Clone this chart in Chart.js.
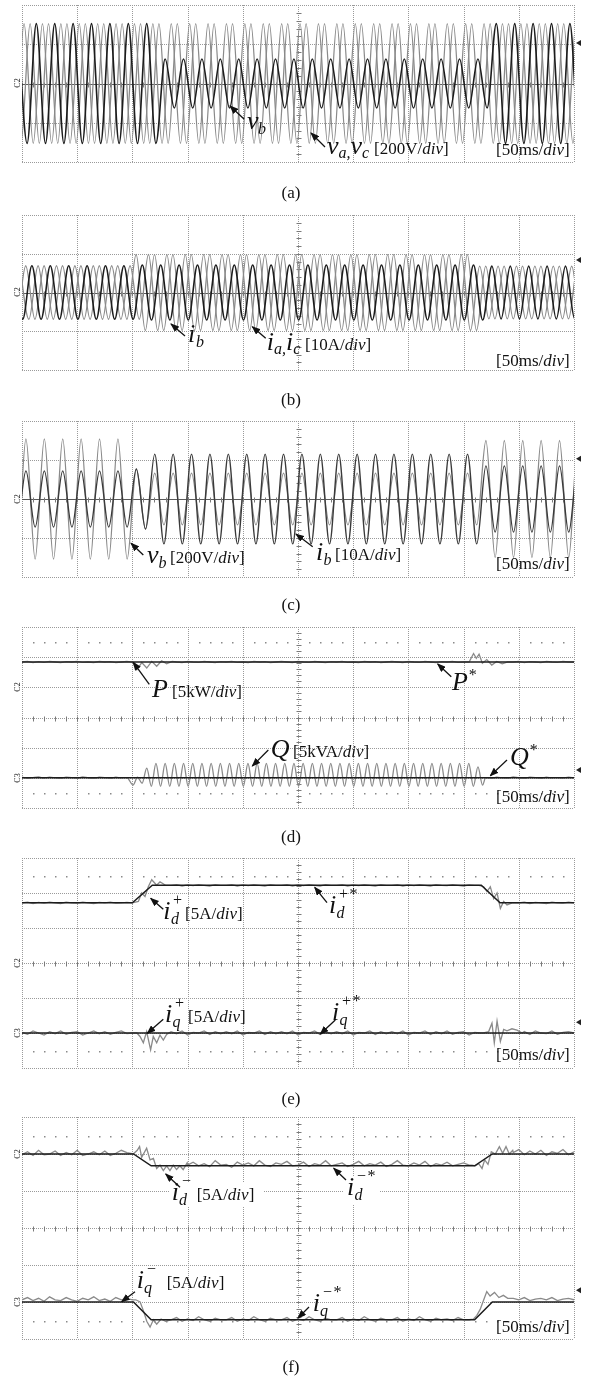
<!DOCTYPE html>
<html>
<head>
<meta charset="utf-8">
<title>Sag compensation - scope traces</title>
<script src="https://cdn.jsdelivr.net/npm/chart.js@4.4.1/dist/chart.umd.min.js"></script>
<style>
  html, body { margin: 0; padding: 0; background: #fff; }
  body { position: relative; width: 592px; height: 1380px; overflow: hidden; }
  canvas { position: absolute; left: 16px; }
  #labels { position: absolute; left: 0; top: 0; }
  #labels text { font-family: "Liberation Serif", "Times New Roman", serif; fill: #111; }
  #labels line { stroke: #111; stroke-width: 1.3; marker-end: url(#ah); }
  .s { font-size: 26px; font-style: italic; }
  .u { font-size: 16px; font-style: italic; }
  .b { font-size: 17px; }
  .i { font-style: italic; }
  .cap { font-size: 17px; }
  .ch { font-size: 8px; fill: #444; }
</style>
</head>
<body>
<canvas id="scopeA" width="576" height="165" style="top:1px"></canvas>
<canvas id="scopeB" width="576" height="163" style="top:211px"></canvas>
<canvas id="scopeC" width="576" height="164" style="top:417px"></canvas>
<canvas id="scopeD" width="576" height="189" style="top:623px"></canvas>
<canvas id="scopeE" width="576" height="218" style="top:854px"></canvas>
<canvas id="scopeF" width="576" height="230" style="top:1113px"></canvas>

<svg id="labels" width="592" height="1380" xmlns="http://www.w3.org/2000/svg">
  <defs>
    <marker id="ah" markerWidth="9" markerHeight="7" refX="8" refY="3.5" orient="auto" markerUnits="userSpaceOnUse">
      <path d="M0,0 L9,3.5 L0,7 z" fill="#111"/>
    </marker>
  </defs>

  <!-- channel ground marks -->
  <text class="ch" transform="translate(20,83) rotate(-90)" text-anchor="middle">C2</text>
  <text class="ch" transform="translate(20,292) rotate(-90)" text-anchor="middle">C2</text>
  <text class="ch" transform="translate(20,499) rotate(-90)" text-anchor="middle">C2</text>
  <text class="ch" transform="translate(20,687) rotate(-90)" text-anchor="middle">C2</text>
  <text class="ch" transform="translate(20,778) rotate(-90)" text-anchor="middle">C3</text>
  <text class="ch" transform="translate(20,963) rotate(-90)" text-anchor="middle">C2</text>
  <text class="ch" transform="translate(20,1033) rotate(-90)" text-anchor="middle">C3</text>
  <text class="ch" transform="translate(20,1154) rotate(-90)" text-anchor="middle">C2</text>
  <text class="ch" transform="translate(20,1302) rotate(-90)" text-anchor="middle">C3</text>

  <!-- (a) -->
  <line x1="244" y1="119" x2="230" y2="106"/>
  <line x1="325" y1="147" x2="311" y2="133"/>
  <text x="247" y="129" class="s">v</text><text x="258" y="134" class="u">b</text>
  <text x="327" y="154"><tspan class="s">v</tspan><tspan class="u" dy="4">a,</tspan><tspan class="s" dy="-4">v</tspan><tspan class="u" dy="4">c</tspan><tspan class="b" dy="-4" x="374">[200V/</tspan><tspan class="b i">div</tspan><tspan class="b">]</tspan></text>
  <text x="496" y="155"><tspan class="b">[50ms/</tspan><tspan class="b i">div</tspan><tspan class="b">]</tspan></text>
  <text x="291" y="198" class="cap" text-anchor="middle">(a)</text>

  <!-- (b) -->
  <line x1="185" y1="336" x2="171" y2="324"/>
  <line x1="265.7" y1="338.3" x2="252.3" y2="326.7"/>
  <text x="188" y="342" class="s">i</text><text x="196" y="347" class="u">b</text>
  <text x="266.7" y="350"><tspan class="s">i</tspan><tspan class="u" dy="4">a,</tspan><tspan class="s" dy="-4">i</tspan><tspan class="u" dy="4">c</tspan><tspan class="b" dy="-4" x="305">[10A/</tspan><tspan class="b i">div</tspan><tspan class="b">]</tspan></text>
  <text x="496" y="366"><tspan class="b">[50ms/</tspan><tspan class="b i">div</tspan><tspan class="b">]</tspan></text>
  <text x="291" y="405" class="cap" text-anchor="middle">(b)</text>

  <!-- (c) -->
  <line x1="143.3" y1="555" x2="131" y2="543.3"/>
  <line x1="312.7" y1="546.7" x2="296" y2="534"/>
  <text x="147" y="563" class="s">v</text><text x="158.5" y="568" class="u">b</text>
  <text x="170" y="563"><tspan class="b">[200V/</tspan><tspan class="b i">div</tspan><tspan class="b">]</tspan></text>
  <text x="316" y="560" class="s">i</text><text x="323.5" y="565" class="u">b</text>
  <text x="335" y="560"><tspan class="b">[10A/</tspan><tspan class="b i">div</tspan><tspan class="b">]</tspan></text>
  <text x="496" y="569"><tspan class="b">[50ms/</tspan><tspan class="b i">div</tspan><tspan class="b">]</tspan></text>
  <text x="291" y="610" class="cap" text-anchor="middle">(c)</text>

  <!-- (d) -->
  <line x1="149.3" y1="684.3" x2="133.3" y2="662.3"/>
  <line x1="451.3" y1="676.7" x2="437.7" y2="664"/>
  <line x1="268.3" y1="750" x2="252.3" y2="766"/>
  <line x1="507" y1="760" x2="490.3" y2="775.7"/>
  <text x="152" y="697" class="s">P</text>
  <text x="172" y="697"><tspan class="b">[5kW/</tspan><tspan class="b i">div</tspan><tspan class="b">]</tspan></text>
  <text x="452" y="690" class="s">P</text><text x="468" y="680" class="u">*</text>
  <text x="270.7" y="757" class="s">Q</text>
  <text x="293" y="757"><tspan class="b">[5kVA/</tspan><tspan class="b i">div</tspan><tspan class="b">]</tspan></text>
  <text x="510" y="765" class="s">Q</text><text x="529" y="755" class="u">*</text>
  <text x="496" y="802"><tspan class="b">[50ms/</tspan><tspan class="b i">div</tspan><tspan class="b">]</tspan></text>
  <text x="291" y="842" class="cap" text-anchor="middle">(d)</text>

  <!-- (e) -->
  <line x1="163.3" y1="909.3" x2="150.7" y2="898.3"/>
  <line x1="327" y1="902.7" x2="314.7" y2="887.3"/>
  <line x1="163.3" y1="1019.3" x2="147.3" y2="1033.3"/>
  <line x1="335.3" y1="1020" x2="320.3" y2="1034"/>
  <text x="163.3" y="919" class="s">i</text><text x="171" y="924" class="u">d</text><text x="172" y="905" class="u">+</text>
  <text x="185" y="919"><tspan class="b">[5A/</tspan><tspan class="b i">div</tspan><tspan class="b">]</tspan></text>
  <text x="329" y="913" class="s">i</text><text x="336.5" y="918" class="u">d</text><text x="338" y="899" class="u">+*</text>
  <text x="165" y="1022" class="s">i</text><text x="172.5" y="1027" class="u">q</text><text x="174" y="1008" class="u">+</text>
  <text x="188" y="1022"><tspan class="b">[5A/</tspan><tspan class="b i">div</tspan><tspan class="b">]</tspan></text>
  <text x="332" y="1020" class="s">i</text><text x="339.5" y="1025" class="u">q</text><text x="341" y="1006" class="u">+*</text>
  <text x="496" y="1060"><tspan class="b">[50ms/</tspan><tspan class="b i">div</tspan><tspan class="b">]</tspan></text>
  <text x="291" y="1104" class="cap" text-anchor="middle">(e)</text>

  <!-- (f) -->
  <rect x="169" y="1182" width="95" height="24" fill="#fff"/>
  <rect x="344" y="1176" width="36" height="28" fill="#fff"/>
  <line x1="180" y1="1187.3" x2="165.7" y2="1174"/>
  <line x1="346" y1="1180" x2="333.7" y2="1168.3"/>
  <line x1="135" y1="1291.7" x2="121.7" y2="1301.7"/>
  <line x1="309" y1="1307" x2="298" y2="1318"/>
  <text x="171.7" y="1200" class="s">i</text><text x="179" y="1205" class="u">d</text><text x="181" y="1186" class="u">−</text>
  <text x="196.7" y="1200"><tspan class="b">[5A/</tspan><tspan class="b i">div</tspan><tspan class="b">]</tspan></text>
  <text x="347" y="1195" class="s">i</text><text x="354.5" y="1200" class="u">d</text><text x="356" y="1181" class="u">−*</text>
  <text x="136.7" y="1288" class="s">i</text><text x="144" y="1293" class="u">q</text><text x="146" y="1274" class="u">−</text>
  <text x="166.7" y="1288"><tspan class="b">[5A/</tspan><tspan class="b i">div</tspan><tspan class="b">]</tspan></text>
  <text x="312.7" y="1311" class="s">i</text><text x="320" y="1316" class="u">q</text><text x="322" y="1297" class="u">−*</text>
  <text x="496" y="1332"><tspan class="b">[50ms/</tspan><tspan class="b i">div</tspan><tspan class="b">]</tspan></text>
  <text x="291" y="1372" class="cap" text-anchor="middle">(f)</text>
</svg>

<script>
// time base: 10 div x 50 ms, 60 Hz grid
const timeTicks = [0, 50, 100, 150, 200, 250, 300, 350, 400, 450, 500];
const PERIOD = 1000 / 60;

// (a) phase voltages [V]: time of the first positive peak [ms], peak of each cycle
const vaStart = -9.3, vbStart = -3.7, vcStart = -14.8;
const vaAmp = [305, 305, 305, 305, 305, 305, 305, 305,
               305, 305, 305, 305, 305, 305, 305, 305,
               305, 305, 305, 305, 305, 305, 305, 305,
               305, 305, 305, 305, 305, 305, 305, 305];
const vbAmp = [305, 305, 305, 305, 305, 305, 305, 305,
               125, 125, 125, 125, 125, 125, 125, 125,
               125, 125, 125, 125, 125, 125, 125, 125,
               125, 125, 305, 305, 305, 305, 305, 305];
const vcAmp = [305, 305, 305, 305, 305, 305, 305, 305,
               305, 305, 305, 305, 305, 305, 305, 305,
               305, 305, 305, 305, 305, 305, 305, 305,
               305, 305, 305, 305, 305, 305, 305, 305];

// (b) line currents [A]
const iaStart = -13.3, ibStart = -7.7, icStart = -2.1;
const iaAmp = [6.9, 6.9, 6.9, 6.9, 6.9, 6.9, 6.9, 9.8,
               9.8, 9.8, 9.8, 9.8, 9.8, 9.8, 9.8, 9.8,
               9.8, 9.8, 9.8, 9.8, 9.8, 9.8, 9.8, 9.8,
               9.8, 9.8, 6.8, 6.8, 6.8, 6.8, 6.8, 6.8];
const ibAmp = [6.9, 6.9, 6.9, 6.9, 6.9, 6.9, 6.9, 7.1,
               7.1, 7.1, 7.1, 7.1, 7.1, 7.1, 7.1, 7.1,
               7.1, 7.1, 7.1, 7.1, 7.1, 7.1, 7.1, 7.1,
               7.1, 7.1, 6.8, 6.8, 6.8, 6.8, 6.8, 6.8];
const icAmp = [6.9, 6.9, 6.9, 6.9, 6.9, 6.9, 6.9, 9.8,
               9.8, 9.8, 9.8, 9.8, 9.8, 9.8, 9.8, 9.8,
               9.8, 9.8, 9.8, 9.8, 9.8, 9.8, 9.8, 9.8,
               9.8, 6.8, 6.8, 6.8, 6.8, 6.8, 6.8, 6.8];

// (c) phase b voltage [V] and current [A]
const phbStart = -13.1;
const vbcAmp = [308, 308, 308, 308, 308, 308, 308, 154,
                133, 133, 133, 133, 133, 133, 133, 133,
                133, 133, 133, 133, 133, 133, 133, 133,
                133, 133, 300, 300, 300, 300, 300, 300];
const ibcAmp = [7.2, 7.2, 7.2, 7.2, 7.2, 7.2, 7.2, 7.7,
                11.5, 11.5, 11.5, 11.5, 11.5, 11.5, 11.5, 11.5,
                11.5, 11.5, 11.5, 11.5, 11.5, 11.5, 11.5, 11.5,
                11.5, 11.5, 8.5, 8.5, 8.5, 8.5, 8.5, 8.5];

// (d) active power [kW], sampled every 5 ms; null = see detail samples
const pBase = [4.2, 4.3, 4.1, 4.25, 4.15, 4.3, 4.2, 4.1, 4.25, 4.2,
               4.3, 4.15, 4.2, 4.1, 4.3, 4.2, 4.25, 4.1, 4.2, 4.3,
               null, null, null, null, null, null, null, null,
               4.2, 4.1, 4.3, 4.2, 4.15, 4.3, 4.2, 4.1, 4.25, 4.2,
               4.3, 4.15, 4.2, 4.1, 4.3, 4.2, 4.25, 4.1, 4.2, 4.3,
               4.2, 4.1, 4.3, 4.2, 4.15, 4.3, 4.2, 4.1, 4.25, 4.2,
               4.3, 4.15, 4.2, 4.1, 4.3, 4.2, 4.25, 4.1, 4.2, 4.3,
               4.2, 4.1, 4.3, 4.2, 4.15, 4.3, 4.2, 4.1, 4.25, 4.2,
               4.3, 4.15, 4.2,
               null, null, null, null, null, null, null, null,
               4.2, 4.3, 4.1, 4.25, 4.2, 4.1, 4.3, 4.2, 4.15, 4.3, 4.2, 4.2];
const pDetT = [100, 104, 108.5, 113, 117.5, 122, 126.5, 131, 136,
               405, 409, 411.5, 414, 417, 421, 425.5, 430, 435, 440];
const pDetV = [4.2, 2.9, 4.1, 3.2, 4.3, 3.5, 4.4, 3.9, 4.3,
               4.2, 5.6, 4.8, 5.5, 4.0, 4.6, 3.7, 4.3, 3.9, 4.2];
const pRefT = [0, 500], pRefV = [4.2, 4.2];

// reactive power [kVA]: 5 ms samples before/after, 120 Hz ripple in between
const qPre = [0.1, -0.1, 0.05, 0.15, -0.05, 0.1, 0, -0.1, 0.1, 0.05,
              -0.05, 0.15, 0, -0.1, 0.1, 0.05, -0.1, 0.1, 0, 0.05];
const qRippleStart = 100.5, qHalf = 1000 / 240;
const qTroughs = [-1.2, -0.9, -1.4, -1.4, -1.4, -1.4, -1.4, -1.4, -1.4, -1.4,
                  -1.4, -1.4, -1.4, -1.4, -1.4, -1.4, -1.4, -1.4, -1.4, -1.4,
                  -1.4, -1.4, -1.4, -1.4, -1.4, -1.4, -1.4, -1.4, -1.4, -1.4,
                  -1.4, -1.4, -1.4, -1.4, -1.4, -1.4, -1.4, -1.4, -1.2];
const qPeaks = [0.1, 1.6, 2.4, 2.4, 2.4, 2.4, 2.4, 2.4, 2.4, 2.4,
                2.4, 2.4, 2.4, 2.4, 2.4, 2.4, 2.4, 2.4, 2.4, 2.4,
                2.4, 2.4, 2.4, 2.4, 2.4, 2.4, 2.4, 2.4, 2.4, 2.4,
                2.4, 2.4, 2.4, 2.4, 2.4, 2.4, 2.4, 1.8];
const qPost = [0.05, -0.1, 0.1, 0, -0.05, 0.15, 0, -0.1, 0.1, 0.05,
               -0.1, 0.1, 0, 0.05, -0.05, 0.1, 0];
const qRefT = [0, 500], qRefV = [0, 0];

// (e) positive-sequence dq currents [A]
const idpBase = [8.6, 8.7, 8.5, 8.65, 8.55, 8.7, 8.6, 8.5, 8.7, 8.6,
                 8.55, 8.7, 8.6, 8.5, 8.65, 8.6, 8.7, 8.55, 8.6, 8.65,
                 null, null, null, null, null, null, null,
                 11.1, 11.2, 11.0, 11.15, 11.05, 11.2, 11.1, 11.0, 11.2, 11.1,
                 11.1, 11.2, 11.0, 11.15, 11.05, 11.2, 11.1, 11.0, 11.2, 11.1,
                 11.1, 11.2, 11.0, 11.15, 11.05, 11.2, 11.1, 11.0, 11.2, 11.1,
                 11.1, 11.2, 11.0, 11.15, 11.05, 11.2, 11.1, 11.0, 11.2, 11.1,
                 11.1, 11.2, 11.0, 11.15, 11.05, 11.2, 11.1, 11.0, 11.2, 11.1,
                 11.05, 11.2, 11.1, 11.0, 11.15, 11.1,
                 null, null, null, null, null, null, null,
                 8.6, 8.7, 8.5, 8.65, 8.6, 8.5, 8.7, 8.6, 8.55, 8.7, 8.6];
const idpDetT = [100, 105.4, 108.4, 111.4, 114.4, 117.5, 122, 125, 130,
                 414, 418.2, 421.2, 424.2, 427.2, 430.3, 433.3, 436.3, 439.3, 444];
const idpDetV = [8.6, 8.8, 10.0, 9.5, 10.9, 11.9, 11.1, 11.6, 11.1,
                 11.1, 10.9, 10.2, 10.9, 9.2, 10.0, 7.8, 8.8, 8.3, 8.6];
const idpRefT = [0, 100, 118, 416, 433, 500];
const idpRefV = [8.6, 8.6, 11.1, 11.1, 8.6, 8.6];

const iqpBase = [0.1, -0.2, 0.3, 0, -0.3, 0.2, -0.1, 0.3, -0.2, 0.1,
                 0.2, -0.3, 0, 0.3, -0.1, 0.2, -0.2, 0.1, 0.3, -0.1, 0,
                 null, null, null, null, null, null,
                 0.2, -0.1, 0.3, -0.3, 0.1, 0, 0.3, -0.2, 0.2, -0.1,
                 0.2, -0.1, 0.3, -0.3, 0.1, 0, 0.3, -0.2, 0.2, -0.1,
                 0.2, -0.1, 0.3, -0.3, 0.1, 0, 0.3, -0.2, 0.2, -0.1,
                 0.2, -0.1, 0.3, -0.3, 0.1, 0, 0.3, -0.2, 0.2, -0.1,
                 0.2, -0.1, 0.3, -0.3, 0.1, 0, 0.3, -0.2, 0.2, -0.1,
                 0.3, -0.2, 0.1, 0.2, -0.3, 0.1, 0,
                 null, null, null, null, null, null, null,
                 0.2, -0.2, 0.3, 0, -0.1, 0.3, -0.2, 0.1, 0.2, 0];
const iqpDetT = [104, 106.9, 109.9, 112.9, 116.5, 118.9, 122, 125, 128, 131,
                 418, 422.7, 425.7, 427.8, 430.3, 433.3, 436.3, 439.3, 443.8, 448.4, 453];
const iqpDetV = [0, -0.5, -1.4, 0.2, -2.4, -0.5, -1.4, -0.3, -1.0, -0.2,
                 0, 0.2, 1.4, -1.4, 1.7, -1.2, 0.5, 0.3, 0.6, 0.4, 0];
const iqpRefT = [0, 500], iqpRefV = [0, 0];

// (f) negative-sequence dq currents [A]
const idnBase = [-0.1, 0.3, -0.2, 0.5, -0.1, 0, 0.4, -0.2, 0.2, -0.1,
                 0.5, -0.2, 0, 0.3, -0.1, 0.4, -0.2, 0.1, 0.5, 0.2,
                 null, null, null, null, null, null, null, null, null, null,
                 -1.5, -1.1, -1.6, -1.3, -1.7, -0.9, -1.5, -1.4, -1.8, -1.1,
                 -1.5, -1.2, -1.6, -0.9, -1.5, -1.7, -1.2, -1.4, -1.0, -1.6,
                 -1.5, -1.1, -1.7, -1.3, -1.5, -0.9, -1.6, -1.4, -1.2, -1.7,
                 -1.4, -1.0, -1.6, -1.3, -1.5, -1.1, -1.7, -1.4, -0.9, -1.5,
                 -1.6, -1.2, -1.5, -1.0, -1.7, -1.3, -1.5, -1.1, -1.6, -1.4,
                 -1.2, -1.5,
                 null, null, null, null, null, null, null,
                 0.2, 0.6, -0.1, 0.4, 0, 0.5, -0.2, 0.3, 0.1, 0.6, -0.1, 0.3];
const idnDetT = [100.8, 104.4, 106.5, 108.4, 112.9, 116, 119, 122, 125, 128, 131,
                 134, 137, 140, 143, 146, 149.6,
                 407.6, 410.6, 413.6, 416.7, 419.1, 422.1, 425.1, 428.7, 432.4,
                 435.4, 438.4, 441.4, 444.5];
const idnDetV = [0, 0.5, 1.0, -0.45, 0.77, -0.8, -0.6, -1.95, -1.5, -2.25, -1.6,
                 -2.25, -1.5, -2.1, -1.6, -2.1, -1.2,
                 -1.5, -1.6, -1.3, -1.95, -0.8, -1.4, 0.3, 0, 1.0,
                 0.1, 1.0, 0, 0.5];
const idnRefT = [0, 101, 117, 410, 426, 500];
const idnRefV = [0, 0, -1.6, -1.6, 0, 0];

const iqnBase = [0.3, 0.6, 0.2, 0.5, 0.1, 0.7, 0.3, 0.2, 0.6, 0.3,
                 0.1, 0.5, 0.3, 0.7, 0.2, 0.4, 0.1, 0.6, 0.3, 0.5, 0.3,
                 null, null, null, null, null, null,
                 -2.4, -2.1, -2.6, -2.3, -2.5, -2.0, -2.4, -2.6, -2.2, -2.4,
                 -2.4, -2.1, -2.6, -2.3, -2.5, -2.0, -2.4, -2.6, -2.2, -2.4,
                 -2.4, -2.1, -2.6, -2.3, -2.5, -2.0, -2.4, -2.6, -2.2, -2.4,
                 -2.4, -2.1, -2.6, -2.3, -2.5, -2.0, -2.4, -2.6, -2.2, -2.4,
                 -2.4, -2.1, -2.6, -2.3, -2.5, -2.0, -2.4, -2.6, -2.2, -2.4,
                 -2.3, -2.5, -2.1, -2.4,
                 null, null, null, null, null, null, null, null,
                 0.5, 0.3, 0.6, 0.2, 0.4, 0.5, 0.3, 0.6, 0.2, 0.4, 0.5, 0.3];
const iqnDetT = [103, 107, 110, 113, 116, 119, 122, 126, 130,
                 405, 409, 412, 415, 418, 421, 424, 428, 432, 436, 440];
const iqnDetV = [0.3, 0, -1.2, -2.6, -3.4, -2.4, -3.0, -2.3, -2.6,
                 -2.4, -2.3, -1.8, -1.0, 0.2, 1.4, 0.8, 1.3, 0.6, 0.9, 0.5];
const iqnRefT = [0, 101, 117, 410, 426, 500];
const iqnRefV = [0, 0, -2.4, -2.4, 0, 0];

// ---- point builders ----
function wave(t0, amps) {
  const pts = [];
  amps.forEach((a, k) => {
    const tp = t0 + k * PERIOD;
    pts.push({x: tp, y: a}, {x: tp + PERIOD / 2, y: -a});
  });
  return pts;
}

function sampled(base, detT, detV) {
  const pts = [];
  base.forEach((v, i) => { if (v !== null) pts.push({x: i * 5, y: v}); });
  detT.forEach((t, i) => pts.push({x: t, y: detV[i]}));
  return pts.sort((a, b) => a.x - b.x);
}

function pairs(ts, vs) {
  return ts.map((t, i) => ({x: t, y: vs[i]}));
}

function rippleQ() {
  const pts = qPre.map((v, i) => ({x: i * 5, y: v}));
  qTroughs.forEach((v, k) => {
    pts.push({x: qRippleStart + 2 * k * qHalf, y: v});
    if (k < qPeaks.length) pts.push({x: qRippleStart + (2 * k + 1) * qHalf, y: qPeaks[k]});
  });
  qPost.forEach((v, i) => pts.push({x: 420 + i * 5, y: v}));
  return pts;
}

const BLACK = '#1c1c1c', GREY = '#8a8a8a';

function line(data, colour, width, yAxisID, smooth) {
  return {
    data, yAxisID, borderColor: colour, borderWidth: width,
    pointRadius: 0, fill: false, tension: 0,
    cubicInterpolationMode: smooth ? 'monotone' : 'default'
  };
}

// graticule: dotted divisions, centre cross with minor ticks, fine dot rows, trigger mark
const scopeGrid = {
  id: 'scopeGrid',
  beforeDatasetsDraw(chart, args, opts) {
    const {ctx, chartArea: area, scales: {x}} = chart;
    const rowH = (area.bottom - area.top) / opts.rows;
    const stepX = (x.getPixelForValue(50) - x.getPixelForValue(0)) / 5;
    const cx = Math.round(x.getPixelForValue(250)) + 0.5;
    const cy = Math.round(area.top + opts.centre * rowH) + 0.5;
    ctx.save();
    ctx.strokeStyle = '#9a9a9a';
    ctx.lineWidth = 1;
    ctx.setLineDash([1, 1]);
    ctx.beginPath();
    timeTicks.forEach(t => {
      const px = Math.round(x.getPixelForValue(t)) + 0.5;
      ctx.moveTo(px, area.top);
      ctx.lineTo(px, area.bottom);
    });
    for (let r = 0; r <= opts.rows; r++) {
      const py = Math.round(area.top + r * rowH) + 0.5;
      ctx.moveTo(area.left, py);
      ctx.lineTo(area.right, py);
    }
    ctx.stroke();

    ctx.setLineDash([]);
    if (opts.solidCentre) {
      ctx.strokeStyle = '#5a5a5a';
      ctx.beginPath();
      ctx.moveTo(area.left, cy);
      ctx.lineTo(area.right, cy);
      ctx.stroke();
    }

    ctx.strokeStyle = '#7a7a7a';
    ctx.beginPath();
    for (let i = 1; i < 50; i++) {
      const px = Math.round(area.left + i * stepX) + 0.5;
      ctx.moveTo(px, cy - 2);
      ctx.lineTo(px, cy + 3);
    }
    for (let j = 1; j < opts.rows * 5; j++) {
      const py = Math.round(area.top + j * rowH / 5) + 0.5;
      ctx.moveTo(cx - 2, py);
      ctx.lineTo(cx + 3, py);
    }
    ctx.stroke();

    ctx.fillStyle = '#8a8a8a';
    (opts.dots || []).forEach(r => {
      const py = Math.round(area.top + r * rowH);
      for (let i = 1; i < 50; i++) {
        if (i % 5) ctx.fillRect(Math.round(area.left + i * stepX), py, 1.5, 1.5);
      }
    });

    const my = area.top + opts.marker * rowH;
    ctx.fillStyle = '#222';
    ctx.beginPath();
    ctx.moveTo(area.right + 2, my);
    ctx.lineTo(area.right + 7, my - 3);
    ctx.lineTo(area.right + 7, my + 3);
    ctx.closePath();
    ctx.fill();
    ctx.restore();
  }
};

function scope(id, grid, yRanges, datasets) {
  const scales = {x: {type: 'linear', min: 0, max: 500, display: false}};
  Object.keys(yRanges).forEach(k => {
    scales[k] = {type: 'linear', min: yRanges[k][0], max: yRanges[k][1], display: false};
  });
  return new Chart(document.getElementById(id), {
    type: 'line',
    data: {datasets},
    options: {
      responsive: false,
      animation: false,
      events: [],
      devicePixelRatio: 1,
      layout: {padding: {left: 6, right: 18, top: 4, bottom: 4}},
      scales,
      plugins: {legend: {display: false}, tooltip: {enabled: false}, scopeGrid: grid}
    },
    plugins: [scopeGrid]
  });
}

// (a) grid voltages, 200 V/div
scope('scopeA', {rows: 4, centre: 2, marker: 0.97, solidCentre: true}, {yA: [-400, 400]}, [
  line(wave(vbStart, vbAmp), BLACK, 1.6, 'yA', true),
  line(wave(vaStart, vaAmp), GREY, 1.3, 'yA', true),
  line(wave(vcStart, vcAmp), GREY, 1.3, 'yA', true)
]);

// (b) line currents, 10 A/div
scope('scopeB', {rows: 4, centre: 2, marker: 1.16, solidCentre: true}, {yB: [-20, 20]}, [
  line(wave(ibStart, ibAmp), BLACK, 1.6, 'yB', true),
  line(wave(iaStart, iaAmp), GREY, 1.3, 'yB', true),
  line(wave(icStart, icAmp), GREY, 1.3, 'yB', true)
]);

// (c) phase b voltage (200 V/div) and current (10 A/div)
scope('scopeC', {rows: 4, centre: 2, marker: 0.97, solidCentre: true}, {yV: [-400, 400], yI: [-20, 20]}, [
  line(wave(phbStart, ibcAmp), '#3a3a3a', 1.4, 'yI', true),
  line(wave(phbStart, vbcAmp), GREY, 1.3, 'yV', true)
]);

// (d) P (5 kW/div) and Q (5 kVA/div) with references
scope('scopeD', {rows: 6, centre: 3, marker: 4.74, dots: [0.5, 5.5]}, {yP: [-20, 10], yQ: [-5, 25]}, [
  line(pairs(pRefT, pRefV), BLACK, 1.5, 'yP', false),
  line(pairs(qRefT, qRefV), BLACK, 1.5, 'yQ', false),
  line(sampled(pBase, pDetT, pDetV), GREY, 1.3, 'yP', false),
  line(rippleQ(), GREY, 1.3, 'yQ', true)
]);

// (e) positive-sequence currents, 5 A/div
scope('scopeE', {rows: 6, centre: 3, marker: 4.69, dots: [0.5, 5.5]}, {yD: [-15, 15], yQ: [-5, 25]}, [
  line(pairs(idpRefT, idpRefV), BLACK, 1.5, 'yD', false),
  line(pairs(iqpRefT, iqpRefV), BLACK, 1.5, 'yQ', false),
  line(sampled(idpBase, idpDetT, idpDetV), GREY, 1.3, 'yD', false),
  line(sampled(iqpBase, iqpDetT, iqpDetV), GREY, 1.3, 'yQ', false)
]);

// (f) negative-sequence currents, 5 A/div
scope('scopeF', {rows: 6, centre: 3, marker: 4.68, dots: [0.5, 5.5]}, {yD: [-25, 5], yQ: [-5, 25]}, [
  line(pairs(idnRefT, idnRefV), BLACK, 1.5, 'yD', false),
  line(pairs(iqnRefT, iqnRefV), BLACK, 1.5, 'yQ', false),
  line(sampled(idnBase, idnDetT, idnDetV), GREY, 1.3, 'yD', false),
  line(sampled(iqnBase, iqnDetT, iqnDetV), GREY, 1.3, 'yQ', false)
]);
</script>
</body>
</html>
